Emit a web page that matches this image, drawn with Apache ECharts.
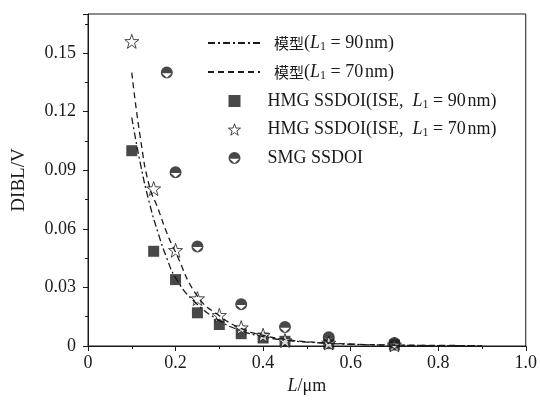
<!DOCTYPE html>
<html>
<head>
<meta charset="utf-8">
<script src="https://cdn.jsdelivr.net/npm/echarts@6/dist/echarts.min.js"></script>
<style>
  html, body { margin: 0; padding: 0; background: #fff; }
  #chart { width: 540px; height: 403px; }
</style>
</head>
<body>
<div id="chart"></div>
<script>
// model curves
var model90 = [[0.1, 0.117], [0.12, 0.093], [0.14, 0.0735], [0.16, 0.058], [0.18, 0.045],
    [0.2, 0.035], [0.24, 0.0234], [0.3, 0.013], [0.35, 0.0078], [0.4, 0.0048],
    [0.45, 0.003], [0.5, 0.002], [0.6, 0.0009], [0.7, 0.0004], [0.8, 0.0002], [0.9, 0.0001]];
var model70 = [[0.1, 0.140], [0.12, 0.106], [0.14, 0.082], [0.16, 0.0703], [0.18, 0.058],
    [0.2, 0.048], [0.25, 0.0255], [0.3, 0.0155], [0.35, 0.009], [0.4, 0.0055],
    [0.45, 0.0034], [0.5, 0.0022], [0.6, 0.001], [0.7, 0.0005], [0.8, 0.0003], [0.9, 0.0002]];

// simulated points
var hmg90 = [[0.1, 0.100], [0.15, 0.0485], [0.2, 0.034], [0.25, 0.017], [0.3, 0.011],
    [0.35, 0.0063], [0.4, 0.0041], [0.45, 0.0024], [0.55, 0.0012], [0.7, 0.0005]];
var hmg70 = [[0.1, 0.156], [0.15, 0.0806], [0.2, 0.049], [0.25, 0.0243], [0.3, 0.0157],
    [0.35, 0.0094], [0.4, 0.0055], [0.45, 0.0028], [0.55, 0.0016], [0.7, 0.0006]];
var smg = [[0.18, 0.140], [0.2, 0.089], [0.25, 0.051], [0.35, 0.0214], [0.45, 0.0097],
    [0.55, 0.0045], [0.7, 0.0015]];

var legendText = {
    m90: '{c|模型}({i|L}{s|1} = 90{n| }nm)',
    m70: '{c|模型}({i|L}{s|1} = 70{n| }nm)',
    h90: 'HMG SSDOI(ISE,  {i|L}{s|1} = 90{n| }nm)',
    h70: 'HMG SSDOI(ISE,  {i|L}{s|1} = 70{n| }nm)',
    smg: 'SMG SSDOI'
};

var ink = '#1a1a1a';
var serif = '"Liberation Serif", "DejaVu Serif", "Noto Sans CJK SC", serif';
var starPath = 'path://M0,-10L2.35,-3.24L9.51,-3.09L3.8,1.24L5.88,8.09L0,4L-5.88,8.09L-3.8,1.24L-9.51,-3.09L-2.35,-3.24Z';
var halfPath = 'path://M0,-10A10,10 0 1,1 0,10A10,10 0 1,1 0,-10ZM-8,1.2L0,8.6L8,1.2Z';

var richText = {
    c: { fontFamily: '"Noto Sans CJK SC"', fontSize: 15, color: ink, lineHeight: 20 },
    i: { fontStyle: 'italic', fontSize: 18, fontFamily: serif, color: ink, lineHeight: 20 },
    s: { fontSize: 12, fontFamily: serif, color: ink, padding: [7, 0, 0, 0], lineHeight: 20 },
    n: { fontSize: 7, lineHeight: 20 }
};

function legendBox(names, opts) {
    return Object.assign({
        orient: 'vertical',
        data: names,
        formatter: function (n) { return legendText[n]; }
    }, opts);
}

var chart = echarts.init(document.getElementById('chart'));
chart.setOption({
    animation: false,
    textStyle: { fontFamily: serif },
    grid: {
        left: 88,
        right: 12,
        top: 14,
        bottom: 57,
        show: true,
        borderColor: ink,
        borderWidth: 1
    },
    legend: [
        legendBox(['m90', 'm70'], {
            left: 202,
            top: 28,
            itemWidth: 52,
            itemHeight: 14,
            itemGap: 9,
            itemStyle: { opacity: 0 },
            textStyle: {
                fontFamily: serif, fontSize: 18, lineHeight: 20, color: ink,
                padding: [0, 0, 0, 9], rich: richText
            }
        }),
        legendBox(['h90', {name: 'h70', itemStyle: {borderWidth: 1, borderColor: ink, color: '#fff'}}, 'smg'], {
            left: 223,
            top: 86,
            itemWidth: 12,
            itemHeight: 12,
            itemGap: 8.5,
            textStyle: {
                fontFamily: serif, fontSize: 18, lineHeight: 20, color: ink,
                padding: [0, 0, 0, 22], rich: richText
            }
        })
    ],
    xAxis: {
        type: 'value',
        min: 0,
        max: 1,
        interval: 0.2,
        name: '{i|L}/μm',
        nameLocation: 'middle',
        nameGap: 29,
        nameTextStyle: {
            fontSize: 18,
            color: ink,
            fontFamily: serif,
            rich: { i: { fontStyle: 'italic', fontSize: 18, color: ink, fontFamily: serif } }
        },
        axisLine: { lineStyle: { color: ink } },
        axisTick: { length: 5, lineStyle: { color: ink } },
        minorTick: { show: true, splitNumber: 2, length: 3, lineStyle: { color: ink } },
        splitLine: { show: false },
        axisLabel: {
            fontSize: 18,
            color: ink,
            margin: 8,
            formatter: function (v) { return v === 0 ? '0' : v.toFixed(1); }
        }
    },
    yAxis: {
        type: 'value',
        min: 0,
        max: 0.17,
        interval: 0.03,
        name: 'DIBL/V',
        nameLocation: 'middle',
        nameGap: 59,
        nameTextStyle: { fontSize: 19, color: ink, fontFamily: serif },
        axisLine: { lineStyle: { color: ink } },
        axisTick: { length: 5, lineStyle: { color: ink } },
        minorTick: { show: true, splitNumber: 2, length: 3, lineStyle: { color: ink } },
        splitLine: { show: false },
        axisLabel: {
            fontSize: 18,
            color: ink,
            margin: 12,
            showMaxLabel: false,
            formatter: function (v) { return v === 0 ? '0' : v.toFixed(2); }
        }
    },
    series: [
        {
            name: 'm90',
            type: 'line',
            data: model90,
            smooth: true,
            symbol: 'none',
            lineStyle: { color: ink, width: 1.3, type: [7, 3, 2, 3] },
            itemStyle: { color: ink }
        },
        {
            name: 'm70',
            type: 'line',
            data: model70,
            smooth: true,
            symbol: 'none',
            lineStyle: { color: ink, width: 1.3, type: [6, 4] },
            itemStyle: { color: ink }
        },
        {
            name: 'h90',
            type: 'scatter',
            data: hmg90,
            symbol: 'rect',
            symbolSize: 11,
            itemStyle: { color: ink }
        },
        {
            name: 'h70',
            type: 'scatter',
            data: hmg70,
            symbol: starPath,
            symbolSize: 14,
            itemStyle: { color: '#fff', borderColor: ink, borderWidth: 1 }
        },
        {
            name: 'smg',
            type: 'scatter',
            data: smg,
            symbol: halfPath,
            symbolSize: 12,
            itemStyle: { color: ink }
        }
    ]
});

window.addEventListener('resize', function () {
    chart.resize();
});
</script>
</body>
</html>
